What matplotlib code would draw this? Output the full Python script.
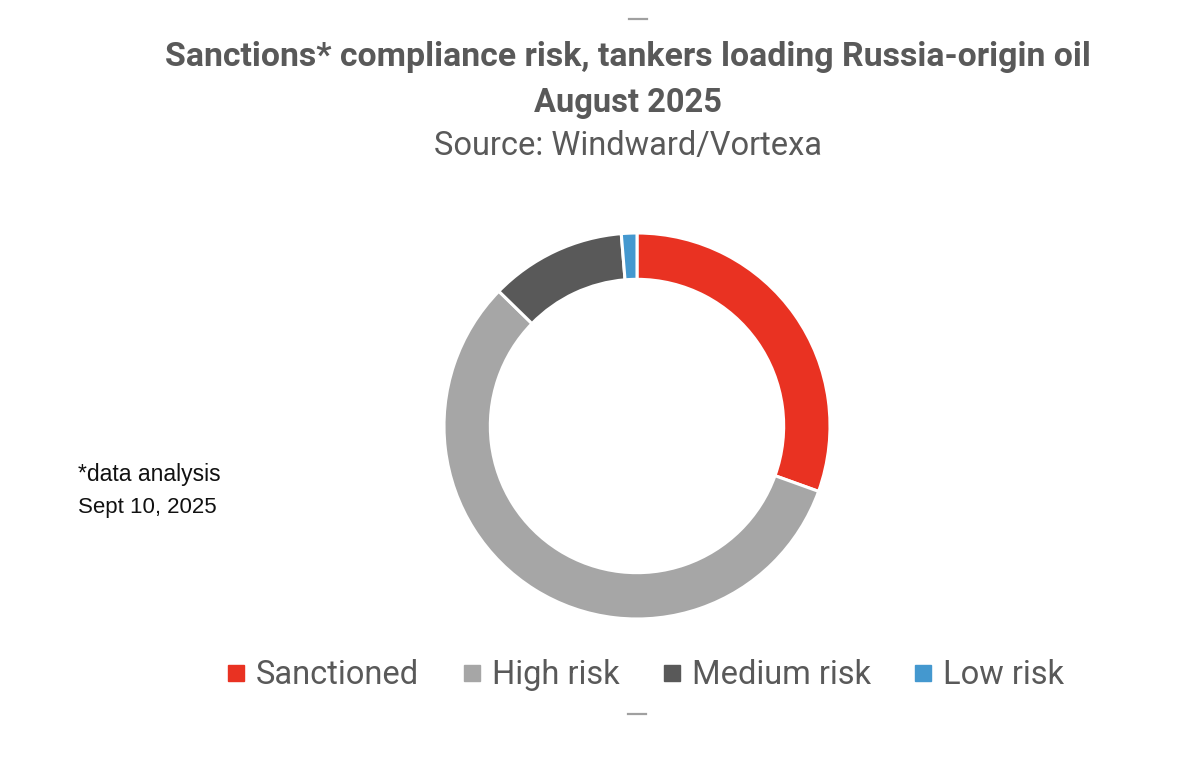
import matplotlib
matplotlib.use("Agg")
import matplotlib.pyplot as plt
from matplotlib.lines import Line2D

labels = ["Sanctioned", "High risk", "Medium risk", "Low risk"]
values = [30.5, 56.8, 11.4, 1.3]
colors = ["#E93222", "#A6A6A6", "#595959", "#4498CF"]

title_font = ["Roboto", "DejaVu Sans"]
text_col = "#595959"
W, H = 1200, 761

fig = plt.figure(figsize=(12, 7.61), dpi=100)
# square axes centred on the ring
cx, cy, r = 637, 426, 193
ax = fig.add_axes([(cx - r) / W, 1 - (cy + r) / H, 2 * r / W, 2 * r / H])
ax.pie(values, colors=colors, startangle=90, counterclock=False, radius=1,
       wedgeprops=dict(width=0.24, edgecolor="white", linewidth=2.2))
ax.set_xlim(-1, 1)
ax.set_ylim(-1, 1)

fig.text(628 / W, 1 - 57 / H, "Sanctions* compliance risk, tankers loading Russia-origin oil",
         ha="center", va="center", fontsize=24.4, fontweight="bold", color=text_col, family=title_font)
fig.text(628 / W, 1 - 103 / H, "August 2025",
         ha="center", va="center", fontsize=23.5, fontweight="bold", color=text_col, family=title_font)
fig.text(628 / W, 1 - 146 / H, "Source: Windward/Vortexa",
         ha="center", va="center", fontsize=23.5, color=text_col, family=title_font)

fig.text(78 / W, 1 - 474 / H, "*data analysis", ha="left", va="center",
         fontsize=16.5, color="#111111", family=["Liberation Sans", "DejaVu Sans"])
fig.text(78 / W, 1 - 507 / H, "Sept 10, 2025", ha="left", va="center",
         fontsize=16, color="#111111", family=["Liberation Sans", "DejaVu Sans"])

handles = [Line2D([], [], linestyle="none", marker="s", markersize=12, color=c) for c in colors]
fig.legend(handles, labels, loc="center", bbox_to_anchor=(642 / W, 1 - 675 / H), ncol=4, frameon=False,
           prop=dict(family=title_font, size=23.5), labelcolor=text_col,
           handlelength=1, handletextpad=0.12, columnspacing=1.1)

# small stray dashes from the screenshot
fig.add_artist(Line2D([629 / W, 647 / W], [1 - 19 / H, 1 - 19 / H], color="#A0A0A0", lw=1.6))
fig.add_artist(Line2D([628 / W, 646 / W], [1 - 714 / H, 1 - 714 / H], color="#A0A0A0", lw=1.6))

fig.savefig("out.png", dpi=100)
